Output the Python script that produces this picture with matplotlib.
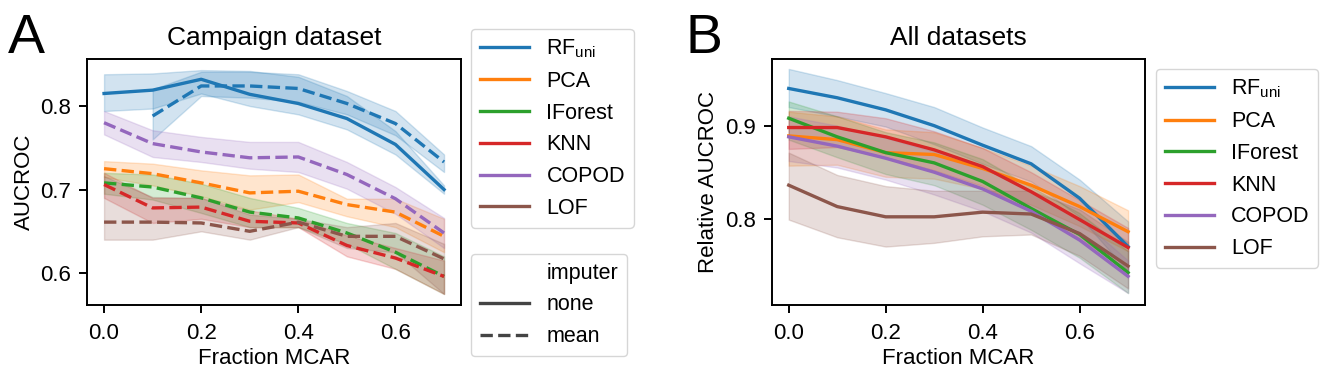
import numpy as np
import matplotlib
matplotlib.use("Agg")
import matplotlib.pyplot as plt
from matplotlib.lines import Line2D

plt.rcParams['font.family'] = ['Liberation Sans', 'DejaVu Sans']
plt.rcParams['mathtext.fontset'] = 'custom'
plt.rcParams['mathtext.rm'] = 'Liberation Sans'
plt.rcParams['mathtext.it'] = 'Liberation Sans'

# x values: fraction of values missing completely at random
frac = [0.0, 0.1, 0.2, 0.3, 0.4, 0.5, 0.6, 0.7]
methods = ['RF$_{\\mathrm{uni}}$', 'PCA', 'IForest', 'KNN', 'COPOD', 'LOF']
colors = ['#1f77b4', '#ff7f0e', '#2ca02c', '#d62728', '#9467bd', '#8c564b']

# Panel A - Campaign dataset (AUCROC)
# RF_uni without imputation (solid)
rf_none = [0.815, 0.819, 0.832, 0.814, 0.803, 0.785, 0.754, 0.700]
rf_none_lo = [0.794, 0.797, 0.815, 0.800, 0.790, 0.772, 0.742, 0.695]
rf_none_hi = [0.838, 0.839, 0.843, 0.842, 0.835, 0.812, 0.770, 0.705]

# mean-imputed runs (dashed); RF_uni mean has no value at 0.0
rf_mean = [np.nan, 0.788, 0.824, 0.824, 0.821, 0.803, 0.779, 0.733]
rf_mean_lo = [np.nan, 0.760, 0.812, 0.810, 0.805, 0.790, 0.765, 0.721]
rf_mean_hi = [np.nan, 0.820, 0.841, 0.841, 0.838, 0.818, 0.794, 0.742]

pca_mean = [0.725, 0.719, 0.708, 0.696, 0.698, 0.682, 0.673, 0.644]
pca_lo = [0.715, 0.705, 0.692, 0.676, 0.685, 0.668, 0.655, 0.625]
pca_hi = [0.734, 0.731, 0.723, 0.717, 0.718, 0.689, 0.689, 0.665]

if_mean = [0.708, 0.703, 0.690, 0.673, 0.666, 0.648, 0.625, 0.596]
if_lo = [0.695, 0.688, 0.672, 0.655, 0.655, 0.635, 0.605, 0.575]
if_hi = [0.720, 0.718, 0.707, 0.690, 0.678, 0.660, 0.648, 0.620]

knn_mean = [0.706, 0.678, 0.679, 0.662, 0.660, 0.633, 0.618, 0.596]
knn_lo = [0.690, 0.660, 0.665, 0.655, 0.655, 0.620, 0.605, 0.575]
knn_hi = [0.720, 0.690, 0.690, 0.675, 0.665, 0.645, 0.630, 0.615]

copod_mean = [0.780, 0.755, 0.745, 0.738, 0.739, 0.718, 0.689, 0.648]
copod_lo = [0.766, 0.739, 0.733, 0.725, 0.721, 0.701, 0.671, 0.630]
copod_hi = [0.794, 0.771, 0.763, 0.757, 0.757, 0.733, 0.703, 0.666]

lof_mean = [0.661, 0.661, 0.660, 0.650, 0.661, 0.644, 0.644, 0.617]
lof_lo = [0.640, 0.640, 0.650, 0.640, 0.655, 0.630, 0.625, 0.575]
lof_hi = [0.716, 0.691, 0.690, 0.670, 0.665, 0.655, 0.660, 0.635]

# Panel B - all datasets (relative AUCROC, no imputation)
b_mean = [
    [0.940, 0.930, 0.917, 0.900, 0.879, 0.859, 0.822, 0.770],
    [0.889, 0.885, 0.871, 0.869, 0.854, 0.836, 0.813, 0.786],
    [0.908, 0.888, 0.871, 0.860, 0.840, 0.811, 0.783, 0.742],
    [0.898, 0.898, 0.888, 0.874, 0.856, 0.829, 0.799, 0.769],
    [0.888, 0.878, 0.865, 0.850, 0.832, 0.808, 0.777, 0.738],
    [0.836, 0.813, 0.802, 0.802, 0.807, 0.805, 0.784, 0.749],
]
b_lo = [
    [0.920, 0.910, 0.899, 0.880, 0.859, 0.840, 0.802, 0.743],
    [0.857, 0.858, 0.845, 0.843, 0.832, 0.815, 0.792, 0.765],
    [0.885, 0.866, 0.848, 0.836, 0.815, 0.788, 0.758, 0.720],
    [0.875, 0.877, 0.866, 0.852, 0.835, 0.808, 0.778, 0.745],
    [0.862, 0.855, 0.842, 0.826, 0.808, 0.785, 0.752, 0.720],
    [0.799, 0.780, 0.770, 0.774, 0.781, 0.783, 0.760, 0.725],
]
b_hi = [
    [0.961, 0.949, 0.935, 0.920, 0.898, 0.878, 0.842, 0.797],
    [0.915, 0.910, 0.896, 0.893, 0.876, 0.857, 0.835, 0.809],
    [0.926, 0.910, 0.893, 0.882, 0.864, 0.834, 0.806, 0.765],
    [0.916, 0.915, 0.908, 0.894, 0.876, 0.850, 0.820, 0.790],
    [0.910, 0.900, 0.887, 0.872, 0.856, 0.830, 0.800, 0.755],
    [0.871, 0.847, 0.835, 0.830, 0.830, 0.830, 0.810, 0.775],
]

LW = 2.4
DASH = (0, (3.7, 1.6))
FS_TICK = 16
FS_LAB = 16
FS_LEG = 15.5
fig = plt.figure(figsize=(13.29, 3.82), dpi=100)
axA = fig.add_axes([0.0655, 0.2016, 0.2814, 0.644])
axB = fig.add_axes([0.5807, 0.2016, 0.2809, 0.644])

# ---- panel A
axA.plot(frac, rf_none, color=colors[0], lw=LW)
axA.fill_between(frac, rf_none_lo, rf_none_hi, color=colors[0], alpha=0.2)

dashed = [(rf_mean, rf_mean_lo, rf_mean_hi, colors[0]),
          (pca_mean, pca_lo, pca_hi, colors[1]),
          (if_mean, if_lo, if_hi, colors[2]),
          (knn_mean, knn_lo, knn_hi, colors[3]),
          (copod_mean, copod_lo, copod_hi, colors[4]),
          (lof_mean, lof_lo, lof_hi, colors[5])]
for m, lo, hi, c in dashed:
    axA.plot(frac, m, color=c, lw=LW, ls=DASH)
    axA.fill_between(frac, lo, hi, color=c, alpha=0.2)

axA.set_xlim(-0.035, 0.735)
axA.set_ylim(0.5618, 0.8563)
axA.set_xticks([0.0, 0.2, 0.4, 0.6])
axA.set_yticks([0.6, 0.7, 0.8])
axA.set_xlabel('Fraction MCAR', fontsize=FS_LAB, labelpad=3)
axA.set_ylabel('AUCROC', fontsize=FS_LAB)
axA.set_title('Campaign dataset', fontsize=19, pad=10)

h1 = [Line2D([], [], color=c, lw=LW) for c in colors]
leg1 = axA.legend(h1, methods, loc='upper left', bbox_to_anchor=(1.027, 1.122),
                  borderaxespad=0, fontsize=FS_LEG, handlelength=2.3)
axA.add_artist(leg1)
h2 = [Line2D([], [], color='none'),
      Line2D([], [], color='#444444', lw=LW),
      Line2D([], [], color='#444444', lw=LW, ls=DASH)]
axA.legend(h2, ['imputer', 'none', 'mean'], loc='upper left',
           bbox_to_anchor=(1.027, 0.207), borderaxespad=0, fontsize=FS_LEG,
           handlelength=2.3)

# ---- panel B
for i in range(len(methods)):
    axB.plot(frac, b_mean[i], color=colors[i], lw=LW)
    axB.fill_between(frac, b_lo[i], b_hi[i], color=colors[i], alpha=0.2)

axB.set_xlim(-0.035, 0.735)
axB.set_ylim(0.7072, 0.9717)
axB.set_xticks([0.0, 0.2, 0.4, 0.6])
axB.set_yticks([0.8, 0.9])
axB.set_xlabel('Fraction MCAR', fontsize=FS_LAB, labelpad=3)
axB.set_ylabel('Relative AUCROC', fontsize=FS_LAB)
axB.set_title('All datasets', fontsize=19, pad=10)
hB = [Line2D([], [], color=c, lw=LW) for c in colors]
axB.legend(hB, methods, loc='upper left', bbox_to_anchor=(1.029, 0.959),
           borderaxespad=0, fontsize=FS_LEG, handlelength=2.3)

for ax in (axA, axB):
    ax.tick_params(labelsize=FS_TICK, width=1.4, length=6)
    ax.tick_params(axis='x', pad=7)
    ax.tick_params(axis='y', pad=5.5)
    for s in ax.spines.values():
        s.set_linewidth(1.4)

fig.text(0.006, 0.862, 'A', fontsize=40)
fig.text(0.516, 0.862, 'B', fontsize=40)

fig.savefig('out.png', dpi=100)
